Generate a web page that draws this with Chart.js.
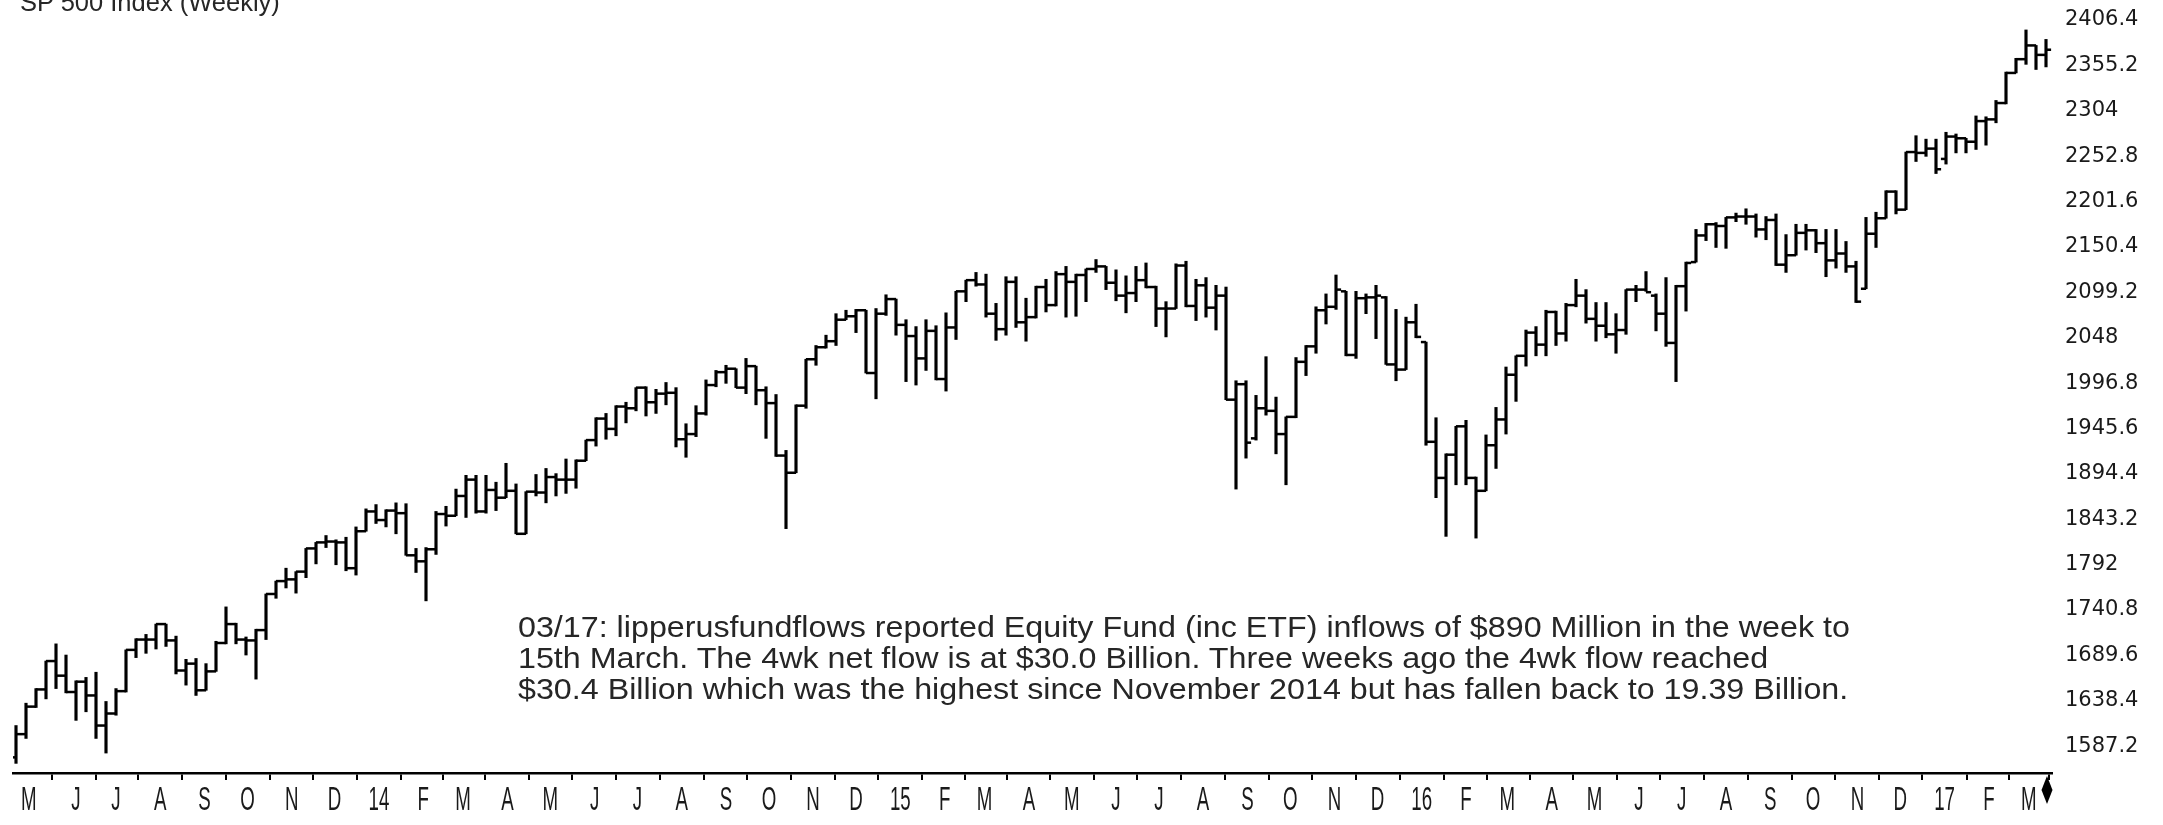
<!DOCTYPE html>
<html><head><meta charset="utf-8">
<script src="https://cdn.jsdelivr.net/npm/chart.js@4.4.1/dist/chart.umd.min.js"></script>
<style>
html,body{margin:0;padding:0;background:#fff;overflow:hidden}
#wrap{position:relative;width:2163px;height:825px;overflow:hidden}
canvas{position:absolute;left:0;top:0}
.t{position:absolute;font-family:'Liberation Sans',Arial,sans-serif;color:#262626;white-space:nowrap}
</style></head><body>
<div id="wrap"><canvas id="c" width="2163" height="825"></canvas>
<div class="t" id="title" style="left:20px;top:-11px;font-size:25.5px;line-height:26px">SP 500 Index (Weekly)</div>
<div class="t" id="note" style="left:518px;top:611px;font-size:30px;line-height:31px;transform:scaleX(1.075);transform-origin:0 0">03/17: lipperusfundflows reported Equity Fund (inc ETF) inflows of $890 Million in the week to<br>15th March. The 4wk net flow is at $30.0 Billion. Three weeks ago the 4wk flow reached<br>$30.4 Billion which was the highest since November 2014 but has fallen back to 19.39 Billion.</div>
</div>
<script>
// Weekly S&P 500 bars, week 0 = week of 22 Apr 2013 ... week 203 = week of 13 Mar 2017
const opens = [1555,1582,1614,1634,1667,1650,1631,1643,1627,1592,1606,1632,1680,1692,1692,1710,1691,1656,1664,1633,
1655,1688,1710,1692,1691,1703,1745,1760,1762,1771,1798,1805,1806,1805,1775,1818,1841,1831,1842,1839,
1790,1783,1797,1838,1836,1859,1878,1841,1866,1857,1865,1815,1864,1863,1881,1878,1878,1900,1924,1949,
1937,1963,1961,1985,1968,1978,1979,1925,1931,1955,1988,2003,2007,1985,2010,1982,1967,1906,1886,1964,
2018,2032,2039,2064,2068,2075,2002,2071,2088,2058,2045,2019,2051,1995,2055,2097,2110,2105,2071,2053,
2108,2061,2067,2102,2081,2117,2108,2116,2123,2126,2107,2092,2095,2110,2102,2077,2077,2127,2080,2104,
2078,2092,1971,1989,1926,1961,1958,1931,1951,2015,2033,2075,2079,2097,2023,2089,2090,2090,2012,2006,
2061,2038,1922,1880,1907,1940,1880,1865,1918,1948,2000,2022,2049,2035,2073,2048,2081,2092,2065,2057,
2047,2052,2099,2099,2092,2071,2037,2103,2131,2162,2175,2173,2183,2184,2184,2169,2180,2128,2139,2165,
2168,2153,2133,2141,2126,2100,2164,2182,2213,2192,2259,2258,2263,2251,2277,2275,2271,2295,2297,2316,
2351,2367,2383,2372];
const highs = [1592,1618,1635,1667,1687,1674,1644,1648,1654,1620,1635,1680,1693,1698,1710,1710,1696,1669,1670,1664,
1690,1730,1711,1695,1704,1745,1760,1775,1771,1798,1805,1813,1808,1811,1823,1844,1849,1843,1851,1850,
1798,1799,1841,1847,1867,1883,1883,1883,1875,1897,1873,1864,1884,1891,1885,1902,1901,1924,1950,1955,
1964,1968,1985,1986,1983,1991,1985,1943,1964,1994,2005,2011,2007,2019,2010,1986,1977,1912,1965,2018,
2034,2046,2071,2075,2076,2075,2077,2093,2088,2064,2056,2064,2057,2072,2097,2110,2119,2117,2083,2114,
2114,2089,2103,2111,2120,2126,2117,2123,2134,2126,2122,2115,2126,2130,2103,2085,2129,2132,2111,2113,
2104,2102,1993,1993,1976,2021,1974,1951,2020,2034,2079,2094,2116,2097,2097,2094,2104,2091,2076,2067,
2082,2038,1950,1908,1940,1947,1881,1930,1962,2009,2022,2052,2056,2075,2074,2083,2111,2099,2084,2084,
2071,2099,2104,2120,2094,2113,2104,2131,2169,2176,2177,2183,2188,2193,2187,2184,2187,2163,2175,2175,
2169,2169,2169,2155,2132,2183,2189,2214,2214,2259,2278,2274,2274,2282,2280,2275,2301,2300,2319,2352,
2368,2401,2383,2390];
const lows = [1548,1577,1613,1623,1635,1630,1598,1608,1577,1560,1604,1631,1671,1676,1681,1684,1652,1639,1627,1633,
1655,1687,1687,1674,1646,1692,1740,1752,1746,1764,1780,1799,1779,1772,1767,1818,1827,1823,1815,1790,
1770,1737,1791,1824,1836,1834,1839,1839,1842,1857,1815,1815,1859,1851,1859,1862,1868,1900,1917,1925,
1929,1944,1958,1952,1955,1965,1916,1904,1928,1953,1986,1990,1985,1978,1965,1926,1905,1821,1886,1961,
2011,2031,2034,2064,2049,2002,1972,2069,2046,1992,1988,2005,1994,1981,2041,2085,2103,2067,2040,2046,
2055,2039,2066,2073,2080,2067,2068,2085,2119,2099,2086,2072,2085,2101,2056,2044,2077,2079,2063,2067,
2052,1971,1867,1903,1924,1953,1908,1872,1950,1999,2025,2059,2076,2022,2019,2071,2042,2012,1993,2006,
2043,1918,1857,1812,1872,1872,1810,1865,1891,1931,1969,2010,2022,2022,2034,2039,2079,2060,2039,2043,
2025,2047,2085,2097,2051,2033,1992,2074,2131,2156,2148,2147,2178,2175,2160,2157,2127,2119,2139,2145,
2142,2114,2124,2119,2084,2100,2148,2182,2187,2192,2248,2254,2234,2245,2258,2258,2262,2267,2293,2315,
2351,2361,2355,2358];
const closes = [1582,1614,1634,1667,1650,1631,1643,1627,1592,1606,1632,1680,1692,1692,1710,1691,1656,1664,1633,1655,
1688,1710,1692,1691,1703,1745,1760,1762,1771,1798,1805,1806,1805,1775,1818,1841,1831,1842,1839,1790,
1783,1797,1838,1836,1859,1878,1841,1866,1857,1865,1815,1864,1863,1881,1878,1878,1900,1924,1949,1937,
1963,1961,1985,1968,1978,1979,1925,1931,1955,1988,2003,2007,1985,2010,1982,1967,1906,1886,1964,2018,
2032,2039,2064,2068,2075,2002,2071,2088,2058,2045,2019,2051,1995,2055,2097,2110,2105,2071,2053,2108,
2061,2067,2102,2081,2117,2108,2116,2123,2126,2107,2092,2095,2110,2102,2077,2077,2127,2080,2104,2078,
2092,1971,1989,1921,1961,1958,1931,1951,2015,2033,2075,2079,2099,2023,2089,2090,2092,2012,2006,2061,
2044,1922,1880,1907,1940,1880,1865,1918,1948,2000,2022,2049,2035,2073,2048,2081,2092,2065,2057,2047,
2052,2099,2099,2096,2071,2037,2103,2130,2162,2175,2173,2183,2184,2184,2169,2180,2128,2139,2165,2168,
2153,2133,2141,2126,2085,2164,2182,2213,2192,2259,2258,2263,2239,2277,2275,2271,2295,2297,2316,2351,
2367,2383,2372,2378];

// Month tick positions (in weeks from the first bar) and their labels
const monthTickPos = [1.29,6,10,14.43,18.86,23.14,27.57,31.86,
36.29,40.71,44.71,49.14,53.43,57.86,62.14,66.57,71,75.29,79.71,84,
88.43,92.86,96.86,101.29,105.57,110,114.29,118.71,123.14,127.43,131.86,136.14,
140.57,145,149.14,153.57,157.86,162.29,166.57,171,175.43,179.71,184.14,188.43,
192.86,197.29,201.29];
const monthTickLabels = ['M','J','J','A','S','O','N','D',
'14','F','M','A','M','J','J','A','S','O','N','D',
'15','F','M','A','M','J','J','A','S','O','N','D',
'16','F','M','A','M','J','J','A','S','O','N','D',
'17','F','M'];
const yTickValues = [1587.2,1638.4,1689.6,1740.8,1792,1843.2,1894.4,1945.6,1996.8,2048,2099.2,2150.4,2201.6,2252.8,2304,2355.2,2406.4];
const yTickLabels = ['1587.2','1638.4','1689.6','1740.8','1792','1843.2','1894.4','1945.6','1996.8','2048','2099.2','2150.4','2201.6','2252.8','2304','2355.2','2406.4'];
const lastBarMarkerX = 203.1;

const INK = '#000';
const rangeData = highs.map((h, i) => ({x: i, y: [lows[i], h]}));
const openData = opens.map((v, i) => ({x: i - 0.25, y: v}));
const closeData = closes.map((v, i) => ({x: i + 0.25, y: v}));

// Condensed month labels under the time axis + the "current bar" diamond marker
const axisDecor = {
  id: 'axisDecor',
  afterDraw(chart) {
    const xs = chart.scales.x, ctx = chart.ctx, bottom = chart.chartArea.bottom;
    ctx.save();
    ctx.fillStyle = '#1a1a1a';
    ctx.font = "34px 'Liberation Sans', Arial, sans-serif";
    ctx.textAlign = 'center';
    ctx.textBaseline = 'alphabetic';
    xs.ticks.forEach((t, i) => {
      const x = xs.getPixelForValue(t.value);
      ctx.save();
      ctx.translate(x, bottom + 37);
      ctx.scale(0.55, 1);
      ctx.fillText(monthTickLabels[i], 0, 0);
      ctx.restore();
    });
    const mx = xs.getPixelForValue(lastBarMarkerX), my = bottom + 17;
    ctx.fillStyle = INK;
    ctx.beginPath();
    ctx.moveTo(mx, my - 14); ctx.lineTo(mx + 5.5, my); ctx.lineTo(mx, my + 14); ctx.lineTo(mx - 5.5, my);
    ctx.closePath(); ctx.fill();
    ctx.restore();
  }
};

new Chart(document.getElementById('c'), {
  data: {
    datasets: [
      {type: 'bar', data: rangeData, backgroundColor: INK, borderWidth: 0, barThickness: 2.5, grouped: false, yAxisID: 'y'},
      {type: 'scatter', data: openData, yAxisID: 'y', pointStyle: 'line', pointRadius: 2.6, pointHoverRadius: 2.6,
       pointBorderColor: INK, borderColor: INK, pointBorderWidth: 2.5, pointHoverBorderWidth: 2.5},
      {type: 'scatter', data: closeData, yAxisID: 'y', pointStyle: 'line', pointRadius: 2.6, pointHoverRadius: 2.6,
       pointBorderColor: INK, borderColor: INK, pointBorderWidth: 2.5, pointHoverBorderWidth: 2.5}
    ]
  },
  plugins: [axisDecor],
  options: {
    responsive: false,
    animation: false,
    events: [],
    layout: {padding: {left: 13, top: 0, right: 0, bottom: 0}},
    plugins: {legend: {display: false}, tooltip: {enabled: false}, title: {display: false}},
    scales: {
      x: {
        type: 'linear', position: 'bottom', min: -0.3, max: 203.6, offset: false,
        afterBuildTicks: s => { s.ticks = monthTickPos.map(v => ({value: v})); },
        afterFit: s => { s.height = 52; s.paddingLeft = 0; s.paddingRight = 0; },
        border: {display: true, color: INK, width: 2.5},
        grid: {display: true, drawOnChartArea: false, drawTicks: true, tickLength: 7, color: INK, lineWidth: 2},
        ticks: {display: false, autoSkip: false, maxRotation: 0, callback: (v, i) => monthTickLabels[i]}
      },
      y: {type: 'linear', display: false, min: 1536.8, max: 2429.9},
      y2: {
        type: 'linear', position: 'right', min: 1556.94, max: 2423.21,
        afterBuildTicks: s => { s.ticks = yTickValues.map(v => ({value: v})); },
        afterFit: s => { s.width = 111; s.paddingTop = 0; s.paddingBottom = 0; },
        border: {display: false},
        grid: {display: false, drawTicks: false},
        ticks: {
          padding: 13, color: '#1a1a1a',
          font: {family: "'DejaVu Sans',Arial,sans-serif", size: 21},
          callback: (v, i) => yTickLabels[i]
        }
      }
    }
  }
});
</script>
</body></html>
